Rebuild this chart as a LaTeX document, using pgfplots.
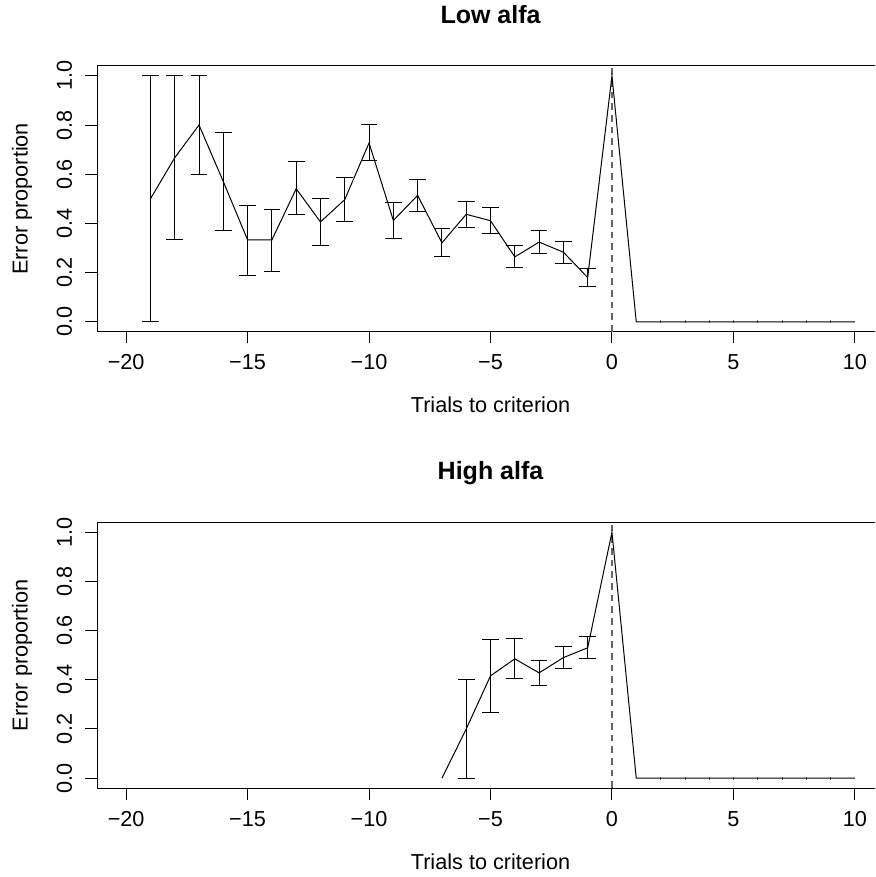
\documentclass[border=0pt]{standalone}
\usepackage{fontspec}
\setmainfont{Liberation Sans}
\usepackage{pgfplots}
\pgfplotsset{compat=1.18}
\usepackage{pgfplotstable}

% Low alfa: proportion of errors with upper/lower error lengths
\pgfplotstableread{
x   y     ep    em
-19 0.500 0.500 0.500
-18 0.667 0.333 0.334
-17 0.800 0.200 0.200
-16 0.570 0.200 0.200
-15 0.333 0.140 0.144
-14 0.333 0.125 0.127
-13 0.541 0.110 0.106
-12 0.406 0.096 0.096
-11 0.497 0.090 0.089
-10 0.727 0.074 0.072
-9  0.412 0.072 0.074
-8  0.514 0.066 0.064
-7  0.321 0.057 0.057
-6  0.437 0.054 0.054
-5  0.411 0.052 0.051
-4  0.264 0.046 0.045
-3  0.324 0.048 0.047
-2  0.283 0.044 0.044
-1  0.180 0.036 0.037
0   1.000 0     0
1   0     0     0
2   0     0.006 0.006
3   0     0.006 0.006
4   0     0.006 0.006
5   0     0.006 0.006
6   0     0.006 0.006
7   0     0.006 0.006
8   0     0.006 0.006
9   0     0.006 0.006
10  0     0     0
}\lowalfa

% High alfa
\pgfplotstableread{
x   y     ep    em
-7  0     0     0
-6  0.200 0.200 0.200
-5  0.416 0.148 0.148
-4  0.485 0.081 0.081
-3  0.428 0.050 0.050
-2  0.490 0.045 0.046
-1  0.530 0.044 0.043
0   1.000 0     0
1   0     0     0
2   0     0.006 0.006
3   0     0.006 0.006
4   0     0.006 0.006
5   0     0.006 0.006
6   0     0.006 0.006
7   0     0.006 0.006
8   0     0.006 0.006
9   0     0.006 0.006
10  0     0     0
}\highalfa

\pgfplotsset{
  panel/.style={
    scale only axis,
    width=472.2pt, height=159.4pt,
    xmin=-21.2, xmax=11.2, ymin=-0.04, ymax=1.04,
    xtick={-20,-15,-10,-5,0,5,10},
    xticklabels={−20,−15,−10,−5,0,5,10},
    ytick={0,0.2,0.4,0.6,0.8,1},
    yticklabels={0.0,0.2,0.4,0.6,0.8,1.0},
    xtick pos=lower, ytick pos=left,
    tick align=outside,
    major tick length=7pt,
    tick style={black, line width=0.6pt},
    axis line style={line width=0.6pt},
    xticklabel style={anchor=base, yshift=-16pt},
    yticklabel style={xshift=-8pt, rotate=90, anchor=base},
    xlabel={Trials to criterion},
    ylabel={Error proportion},
    xlabel style={at={(axis description cs:0.5,-0.276)}, anchor=center},
    ylabel style={at={(axis description cs:-0.0953,0.5)}, anchor=center},
    title style={at={(axis description cs:0.5,1.124)}, anchor=base, font=\bfseries\fontsize{15}{18}\selectfont},
    clip=false,
  },
  line/.style={black, line width=0.6pt, mark=none},
  bars/.style={draw=none, mark=none, forget plot,
    error bars/y dir=both, error bars/y explicit,
    error bars/error bar style={draw=black, solid, line width=0.6pt},
    error bars/error mark options={rotate=90, draw=black, line width=0.6pt, mark size=5pt}},
  ticks/.style={draw=none, mark=none, forget plot,
    error bars/y dir=both, error bars/y explicit, error bars/error mark=none,
    error bars/error bar style={draw=black!60, line width=0.4pt}},
  zero/.style={black!60, line width=0.7pt, dash pattern=on 4pt off 3pt},
}

\begin{document}
\fontsize{13}{15}\selectfont
\begin{tikzpicture}
\path[use as bounding box, clip] (0,0) rectangle (525pt,526.2pt);

\begin{axis}[panel, at={(58.2pt,327.2pt)}, anchor=south west, title={Low alfa}]
\addplot[zero] coordinates {(0,-0.04) (0,1.04)};
\addplot[bars, restrict x to domain=-19:-1] table[x=x, y=y, y error plus=ep, y error minus=em] {\lowalfa};
\addplot[ticks, restrict x to domain=2:9] table[x=x, y=y, y error plus=ep, y error minus=em] {\lowalfa};
\addplot[line] table[x=x, y=y] {\lowalfa};
\end{axis}

\begin{axis}[panel, at={(58.2pt,53.4pt)}, anchor=south west, title={High alfa}]
\addplot[zero] coordinates {(0,-0.04) (0,1.04)};
\addplot[bars, restrict x to domain=-6:-1] table[x=x, y=y, y error plus=ep, y error minus=em] {\highalfa};
\addplot[ticks, restrict x to domain=2:9] table[x=x, y=y, y error plus=ep, y error minus=em] {\highalfa};
\addplot[line] table[x=x, y=y] {\highalfa};
\end{axis}
\end{tikzpicture}
\end{document}
